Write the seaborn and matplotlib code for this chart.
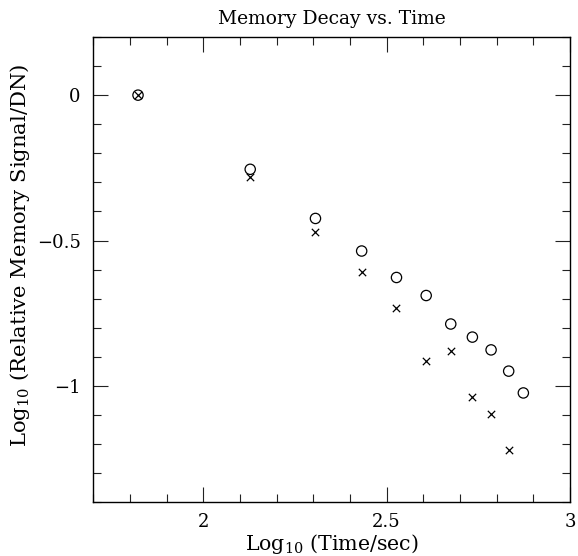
import matplotlib
matplotlib.use("Agg")
import matplotlib.pyplot as plt
import seaborn as sns
import pandas as pd
from matplotlib.ticker import MultipleLocator

log_time_circle = [1.822, 2.128, 2.306, 2.432, 2.527, 2.608, 2.675, 2.734, 2.785, 2.833, 2.873]
log_signal_circle = [0.0, -0.255, -0.424, -0.536, -0.627, -0.689, -0.787, -0.832, -0.876, -0.949, -1.024]
log_time_cross = [1.822, 2.128, 2.306, 2.432, 2.527, 2.608, 2.675, 2.734, 2.785, 2.833]
log_signal_cross = [0.0, -0.280, -0.470, -0.608, -0.733, -0.915, -0.881, -1.039, -1.096, -1.219]

sns.set_theme(style="ticks", rc={"text.color": "black", "axes.labelcolor": "black",
                                 "xtick.color": "black", "ytick.color": "black"})
plt.rcParams['font.family'] = ['DejaVu Serif']
plt.rcParams['mathtext.fontset'] = 'dejavuserif'

fig = plt.figure(figsize=(5.78, 5.56), dpi=100)
ax = fig.add_axes([0.1614, 0.0966, 0.8246, 0.8369])

df_c = pd.DataFrame({"x": log_time_circle, "y": log_signal_circle})
df_x = pd.DataFrame({"x": log_time_cross, "y": log_signal_cross})

sns.scatterplot(data=df_c, x="x", y="y", ax=ax, marker="o", s=55,
                facecolors="none", edgecolor="black", linewidth=0.9)
sns.scatterplot(data=df_x, x="x", y="y", ax=ax, marker="x", s=28,
                color="black", linewidth=0.9)

ax.set_xlim(1.7, 3.0)
ax.set_ylim(-1.4, 0.2)
ax.xaxis.set_minor_locator(MultipleLocator(0.1))
ax.yaxis.set_minor_locator(MultipleLocator(0.1))
ax.set_xticks([2, 2.5, 3])
ax.set_xticklabels(["2", "2.5", "3"])
ax.set_yticks([0, -0.5, -1])
ax.set_yticklabels(["0", "\u22120.5", "\u22121"])
ax.tick_params(which="both", direction="in", top=True, right=True, color="#222222",
               labelcolor="black", width=0.8, labelsize=13)
ax.tick_params(which="major", length=11)
ax.tick_params(which="minor", length=6)
ax.tick_params(axis="x", which="major", pad=8)
ax.tick_params(axis="y", which="major", pad=9)
for sp in ax.spines.values():
    sp.set_color("black")
    sp.set_linewidth(1.0)

ax.set_xlabel("Log$_{10}$ (Time/sec)", fontsize=14.8)
ax.xaxis.set_label_coords(0.5, -0.063)
ax.set_ylabel("Log$_{10}$ (Relative Memory Signal/DN)", fontsize=15.2)
ax.yaxis.set_label_coords(-0.129, 0.53)
ax.set_title("Memory Decay vs. Time", fontsize=13.5, pad=9, color="black")

fig.savefig("out.png", dpi=100)
